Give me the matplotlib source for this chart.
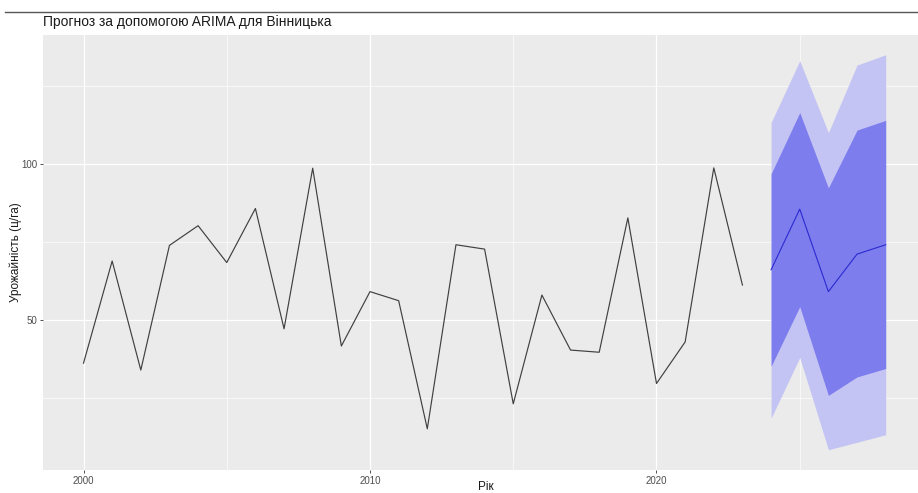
import matplotlib
matplotlib.use("Agg")
import matplotlib.pyplot as plt
from matplotlib.lines import Line2D
from matplotlib.ticker import MultipleLocator

plt.rcParams['font.family'] = ['Liberation Sans', 'DejaVu Sans']

# observed yields
years = list(range(2000, 2024))
yields = [36.2, 68.9, 34.0, 73.9, 80.2, 68.4, 85.7, 47.2, 98.6, 41.7,
          59.1, 56.2, 15.2, 74.1, 72.7, 23.2, 58.0, 40.4, 39.7, 82.7,
          29.7, 43.0, 98.7, 61.2]

# ARIMA forecast with 80% and 95% intervals
fc_years = [2024, 2025, 2026, 2027, 2028]
fc_mean = [66.1, 85.5, 59.1, 71.1, 74.1]
lo80 = [35.2, 54.3, 25.9, 31.8, 34.5]
hi80 = [96.8, 116.4, 92.3, 110.8, 113.9]
lo95 = [18.6, 38.0, 8.5, 10.9, 13.3]
hi95 = [113.2, 133.0, 110.0, 131.6, 134.9]

fig = plt.figure(figsize=(9.18, 4.93), dpi=100)
ax = fig.add_axes([43.4 / 918, 23.5 / 493, 882.4 / 918, 434.5 / 493])
ax.set_facecolor('#EBEBEB')

ax.fill_between(fc_years, lo95, hi95, color='#C4C4F4', lw=0, zorder=2)
ax.fill_between(fc_years, lo80, hi80, color='#7D7DEE', lw=0, zorder=3)
ax.plot(fc_years, fc_mean, color='#2A2AD0', lw=0.8, zorder=4)
ax.plot(years, yields, color='#404040', lw=0.85, zorder=4)

ax.margins(x=0.05, y=0.05)

ax.xaxis.set_major_locator(MultipleLocator(10))
ax.xaxis.set_minor_locator(MultipleLocator(5))
ax.yaxis.set_major_locator(MultipleLocator(50))
ax.yaxis.set_minor_locator(MultipleLocator(25))
ax.grid(which='major', color='white', lw=0.9, zorder=1)
ax.grid(which='minor', color='white', lw=0.45, zorder=1)
ax.set_axisbelow(True)
for s in ax.spines.values():
    s.set_visible(False)
ax.tick_params(which='major', length=2.5, width=0.6, color='#333333',
               labelsize=7, labelcolor='#4D4D4D', pad=2)
ax.tick_params(which='minor', length=0)

ax.set_ylabel('Урожайність (ц/га)', fontsize=8.5, color='#1a1a1a')
ax.yaxis.set_label_coords((22 - 43.4) / 882.4, 0.5)
fig.text(0.529, 0.5 / 493, 'Рік', fontsize=8.5, color='#1a1a1a',
         ha='center', va='bottom')
fig.text(43 / 918, 1 - 22 / 493, 'Прогноз за допомогою ARIMA для Вінницька',
         fontsize=10, color='#1a1a1a', ha='left', va='center')
fig.add_artist(Line2D([5 / 918, 1], [1 - 12 / 493] * 2, color='#555555',
                      lw=1, transform=fig.transFigure))

fig.savefig('out.png', dpi=100)
